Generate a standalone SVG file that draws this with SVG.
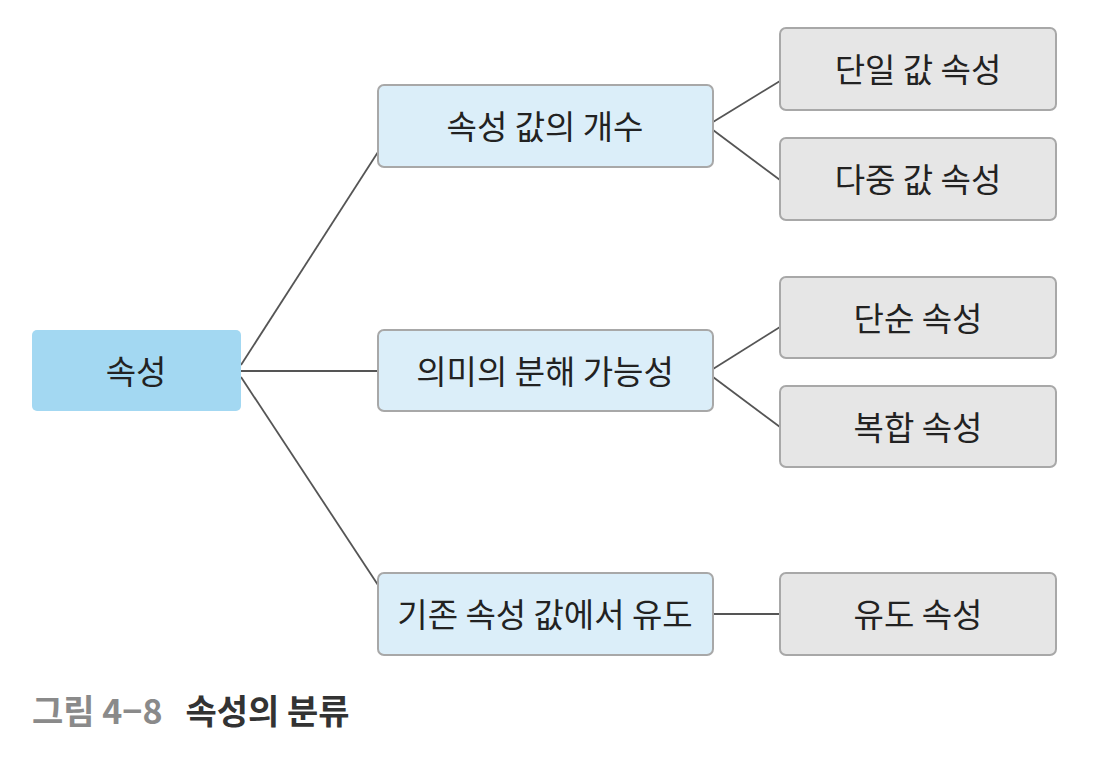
<svg xmlns="http://www.w3.org/2000/svg" width="1093" height="758" viewBox="0 0 1093 758">
<style>
.t{font-family:"Noto Sans CJK KR","Noto Sans",sans-serif;font-size:33px;fill:#222;text-anchor:middle;dominant-baseline:central}
.root{fill:#a3d8f2}
.mid{fill:#dbeef9;stroke:#a8a8a8;stroke-width:2}
.leaf{fill:#e6e6e6;stroke:#a8a8a8;stroke-width:2}
.c{stroke:#555;stroke-width:1.8;fill:none}
.cap{font-family:"Noto Sans CJK KR","Noto Sans",sans-serif;font-size:34px;font-weight:bold}
</style>
<rect width="1093" height="758" fill="#fff"/>
<g id="connectors">
<line class="c" x1="241" y1="365" x2="378" y2="152"/>
<line class="c" x1="241" y1="371" x2="378" y2="371"/>
<line class="c" x1="241" y1="377" x2="378" y2="585"/>
<line class="c" x1="713" y1="122" x2="780" y2="81"/>
<line class="c" x1="713" y1="130" x2="780" y2="180"/>
<line class="c" x1="713" y1="369" x2="780" y2="327"/>
<line class="c" x1="713" y1="377" x2="780" y2="427"/>
<line class="c" x1="713" y1="614" x2="780" y2="614"/>
</g>
<g id="root"><rect class="root" x="32" y="330" width="209" height="81" rx="5"/><text class="t" x="136" y="370">속성</text></g>
<g id="m1"><rect class="mid" x="378" y="85" width="335" height="82" rx="6"/><text class="t" x="545" y="125">속성 값의 개수</text></g>
<g id="m2"><rect class="mid" x="378" y="330" width="335" height="81" rx="6"/><text class="t" x="545" y="370">의미의 분해 가능성</text></g>
<g id="m3"><rect class="mid" x="378" y="573" width="335" height="82" rx="6"/><text class="t" x="545" y="613">기존 속성 값에서 유도</text></g>
<g id="l1"><rect class="leaf" x="780" y="28" width="276" height="82" rx="6"/><text class="t" x="918" y="68">단일 값 속성</text></g>
<g id="l2"><rect class="leaf" x="780" y="138" width="276" height="82" rx="6"/><text class="t" x="918" y="178">다중 값 속성</text></g>
<g id="l3"><rect class="leaf" x="780" y="277" width="276" height="81" rx="6"/><text class="t" x="918" y="317">단순 속성</text></g>
<g id="l4"><rect class="leaf" x="780" y="386" width="276" height="81" rx="6"/><text class="t" x="918" y="426">복합 속성</text></g>
<g id="l5"><rect class="leaf" x="780" y="573" width="276" height="82" rx="6"/><text class="t" x="918" y="613">유도 속성</text></g>
<text class="cap" x="32" y="724"><tspan fill="#8a8a8a">그림 4−8</tspan><tspan fill="#333" dx="23">속성의 분류</tspan></text>
</svg>
